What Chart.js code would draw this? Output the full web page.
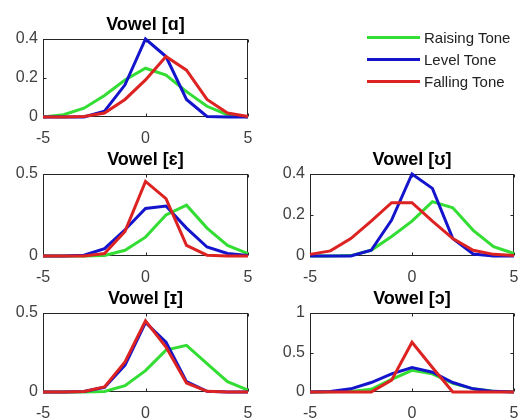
<!DOCTYPE html>
<html>
<head>
<meta charset="utf-8">
<script src="https://cdn.jsdelivr.net/npm/chart.js@4.4.1/dist/chart.umd.min.js"></script>
<style>
  html, body { margin: 0; padding: 0; background: #fff; }
  #wrap { position: relative; width: 518px; height: 420px; overflow: hidden; font-family: "Liberation Sans", Arial, sans-serif; }
  #wrap canvas { position: absolute; left: 0; top: 0; }
  #legend { position: absolute; left: 367px; top: 26px; }
  #legend .row { display: flex; align-items: center; height: 22px; }
  #legend .swatch { width: 53px; height: 3px; margin-right: 4px; }
  #legend .label { font-size: 15px; color: #222; }
</style>
</head>
<body>
<div id="wrap">
  <canvas id="c0" width="518" height="420"></canvas>
  <canvas id="c1" width="518" height="420"></canvas>
  <canvas id="c2" width="518" height="420"></canvas>
  <canvas id="c3" width="518" height="420"></canvas>
  <canvas id="c4" width="518" height="420"></canvas>
  <div id="legend"></div>
</div>
<script>
(function () {
  // data
  const xValues = [-5, -4, -3, -2, -1, 0, 1, 2, 3, 4, 5];
  const xTicks = [-5, 0, 5];
  const seriesNames = ["Raising Tone", "Level Tone", "Falling Tone"];
  const seriesColors = ["#33dd33", "#1414cc", "#dd2222"];

  // Vowel [ɑ]
  const raisingA = [0, 0.012, 0.045, 0.11, 0.19, 0.25, 0.215, 0.13, 0.055, 0.012, 0];
  const levelA = [0, 0, 0, 0.03, 0.165, 0.4, 0.31, 0.09, 0.003, 0, 0];
  const fallingA = [0, 0, 0.003, 0.02, 0.09, 0.19, 0.31, 0.24, 0.09, 0.02, 0.003];
  const yTicksA = [0, 0.2, 0.4];

  // Vowel [ɛ]
  const raisingE = [0, 0, 0, 0.003, 0.035, 0.115, 0.25, 0.31, 0.17, 0.065, 0.015];
  const levelE = [0, 0, 0.005, 0.045, 0.16, 0.29, 0.305, 0.17, 0.055, 0.015, 0.003];
  const fallingE = [0, 0, 0, 0.015, 0.15, 0.455, 0.35, 0.065, 0.005, 0, 0];
  const yTicksE = [0, 0.5];

  // Vowel [ʊ]
  const raisingU = [0, 0, 0.002, 0.028, 0.095, 0.17, 0.265, 0.235, 0.125, 0.045, 0.012];
  const levelU = [0, 0, 0, 0.028, 0.175, 0.4, 0.33, 0.085, 0.01, 0, 0];
  const fallingU = [0.008, 0.025, 0.085, 0.17, 0.26, 0.26, 0.17, 0.085, 0.028, 0.008, 0.003];
  const yTicksU = [0, 0.2, 0.4];

  // Vowel [ɪ]
  const raisingI = [0, 0, 0, 0.003, 0.04, 0.135, 0.265, 0.295, 0.18, 0.065, 0.012];
  const levelI = [0, 0, 0.003, 0.03, 0.17, 0.44, 0.315, 0.065, 0.004, 0, 0];
  const fallingI = [0, 0, 0.003, 0.032, 0.19, 0.45, 0.285, 0.057, 0.004, 0, 0];
  const yTicksI = [0, 0.5];

  // Vowel [ɔ]
  const raisingO = [0, 0.002, 0.008, 0.035, 0.16, 0.275, 0.23, 0.11, 0.04, 0.01, 0.002];
  const levelO = [0.001, 0.006, 0.04, 0.12, 0.23, 0.31, 0.25, 0.12, 0.04, 0.008, 0.001];
  const fallingO = [0, 0, 0, 0, 0.15, 0.63, 0.31, 0, 0, 0, 0];
  const yTicksO = [0, 0.5, 1];

  // plot boxes in page pixels
  const panels = [
    { title: "Vowel [ɑ]", series: [raisingA, levelA, fallingA], yTicks: yTicksA, box: { left: 43, top: 39, right: 248, bottom: 117 } },
    { title: "Vowel [ɛ]", series: [raisingE, levelE, fallingE], yTicks: yTicksE, box: { left: 43, top: 174, right: 248, bottom: 256 } },
    { title: "Vowel [ʊ]", series: [raisingU, levelU, fallingU], yTicks: yTicksU, box: { left: 310, top: 174, right: 514, bottom: 256 } },
    { title: "Vowel [ɪ]", series: [raisingI, levelI, fallingI], yTicks: yTicksI, box: { left: 43, top: 313, right: 248, bottom: 392 } },
    { title: "Vowel [ɔ]", series: [raisingO, levelO, fallingO], yTicks: yTicksO, box: { left: 310, top: 313, right: 514, bottom: 392 } },
  ];

  const W = 518, H = 420;
  const yAxisWidth = 40, xAxisHeight = 28, titleBlock = 18 * 1.2 + 3;
  const fontFamily = "'Liberation Sans', Arial, sans-serif";

  // MATLAB-style box with inward ticks
  const framePlugin = {
    id: "frame",
    beforeDatasetsDraw(chart) {
      const { ctx, chartArea: a, scales } = chart;
      const l = Math.round(a.left) + 0.5, r = Math.round(a.right) - 0.5;
      const t = Math.round(a.top) + 0.5, b = Math.round(a.bottom) - 0.5;
      ctx.save();
      ctx.strokeStyle = "#262626";
      ctx.lineWidth = 1;
      ctx.strokeRect(l, t, r - l, b - t);
      ctx.beginPath();
      scales.x.ticks.forEach((tick) => {
        const px = Math.round(scales.x.getPixelForValue(tick.value)) + 0.5;
        ctx.moveTo(px, b); ctx.lineTo(px, b - 3);
        ctx.moveTo(px, t); ctx.lineTo(px, t + 3);
      });
      scales.y.ticks.forEach((tick) => {
        const py = Math.round(scales.y.getPixelForValue(tick.value)) + 0.5;
        ctx.moveTo(l, py); ctx.lineTo(l + 3, py);
        ctx.moveTo(r, py); ctx.lineTo(r - 3, py);
      });
      ctx.stroke();
      ctx.restore();
    },
  };

  function makePanel(canvas, panel) {
    const box = panel.box;
    const datasets = panel.series.map((values, i) => ({
      label: seriesNames[i],
      data: xValues.map((x, j) => ({ x, y: values[j] })),
      borderColor: seriesColors[i],
      backgroundColor: seriesColors[i],
      borderWidth: 3,
      pointRadius: 0,
      tension: 0,
      order: 3 - i,
      clip: 4,
    }));
    new Chart(canvas, {
      type: "line",
      data: { datasets },
      options: {
        responsive: false,
        animation: false,
        events: [],
        layout: {
          padding: {
            left: box.left - yAxisWidth,
            top: box.top - titleBlock,
            right: W - box.right,
            bottom: H - box.bottom - xAxisHeight,
          },
        },
        plugins: {
          legend: { display: false },
          tooltip: { enabled: false },
          title: {
            display: true,
            text: panel.title,
            fullSize: false,
            color: "#000",
            font: { family: fontFamily, size: 18, weight: "bold", lineHeight: 1.2 },
            padding: { top: 0, bottom: 3 },
          },
        },
        scales: {
          x: {
            type: "linear",
            min: xTicks[0],
            max: xTicks[xTicks.length - 1],
            afterBuildTicks: (s) => { s.ticks = xTicks.map((v) => ({ value: v })); },
            afterFit: (s) => { s.height = xAxisHeight; s.paddingLeft = 0; s.paddingRight = 0; },
            ticks: { color: "#404040", font: { family: fontFamily, size: 16 }, padding: 12, maxRotation: 0, callback: (v) => String(v) },
            grid: { display: false, drawTicks: false },
            border: { display: false },
          },
          y: {
            type: "linear",
            min: panel.yTicks[0],
            max: panel.yTicks[panel.yTicks.length - 1],
            afterBuildTicks: (s) => { s.ticks = panel.yTicks.map((v) => ({ value: v })); },
            afterFit: (s) => { s.width = yAxisWidth; s.paddingTop = 0; s.paddingBottom = 0; },
            ticks: { color: "#404040", font: { family: fontFamily, size: 16 }, padding: 5, callback: (v) => String(v) },
            grid: { display: false, drawTicks: false },
            border: { display: false },
          },
        },
      },
      plugins: [framePlugin],
    });
  }

  panels.forEach((panel, i) => makePanel(document.getElementById("c" + i), panel));

  const legend = document.getElementById("legend");
  legend.innerHTML = seriesNames.map((name, i) => `
    <div class="row"><span class="swatch" style="background:${seriesColors[i]}"></span><span class="label">${name}</span></div>
  `).join("");
})();
</script>
</body>
</html>
